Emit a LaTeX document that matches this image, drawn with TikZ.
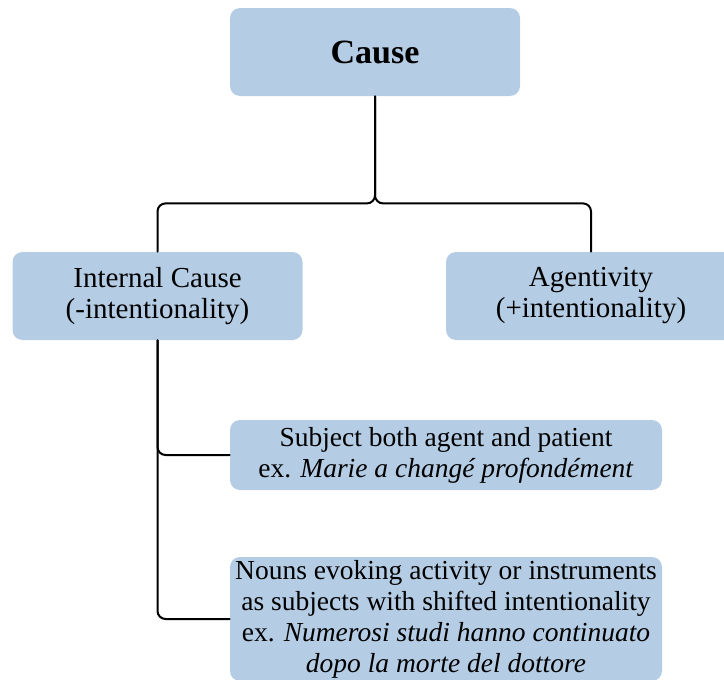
\documentclass[tikz,border=0pt]{standalone}
\usepackage{fontspec}
\setmainfont{Liberation Serif}
\usepackage{tikz}
\usepackage{color}

\begin{document}
\begin{tikzpicture}
		[x=0.5pt,y=-0.5pt,line cap=round,
		%Styles
		box/.style={rounded corners=5pt,fill=boxblue,inner sep=0pt,align=center,minimum width=145pt,minimum height=44pt,font=\fontsize{14.5}{15.5}\selectfont},
		wide box/.style={box,minimum width=216pt,font=\fontsize{13.75}{15.5}\selectfont},
		title box/.style={box,font=\fontsize{17}{20}\selectfont\bfseries},
		link/.style={line width=1pt,rounded corners=4pt}
		]
		
		%Colors
		\definecolor{boxblue}{RGB}{180,204,228}	%box fill
		
		\useasboundingbox (0,0) rectangle (724,680);
		
		%The graphic
		\node[title box] (cause) at (375,52) {Cause};
		\node[box] (internal) at (157.5,296) {Internal Cause\\(-intentionality)};
		\node[box] (agent) at (591,296) {Agentivity\\(+intentionality)};
		\node[wide box,minimum height=35pt] (subject) at (446,455) {Subject both agent and patient\\ex. \textit{Marie a changé profondément}};
		\node[wide box,minimum height=62pt] (nouns) at (446,619) {Nouns evoking activity or instruments\\as subjects with shifted intentionality\\ex. \textit{Numerosi studi hanno continuato}\\\textit{dopo la morte del dottore}};
		
		\draw[link] (cause.south) -- ++(0,107) -| (internal.north);
		\draw[link] (cause.south) -- ++(0,107) -| (agent.north);
		\draw[link] (internal.south) |- (subject.west);
		\draw[link] (internal.south) |- (nouns.west);
	\end{tikzpicture}
\end{document}
